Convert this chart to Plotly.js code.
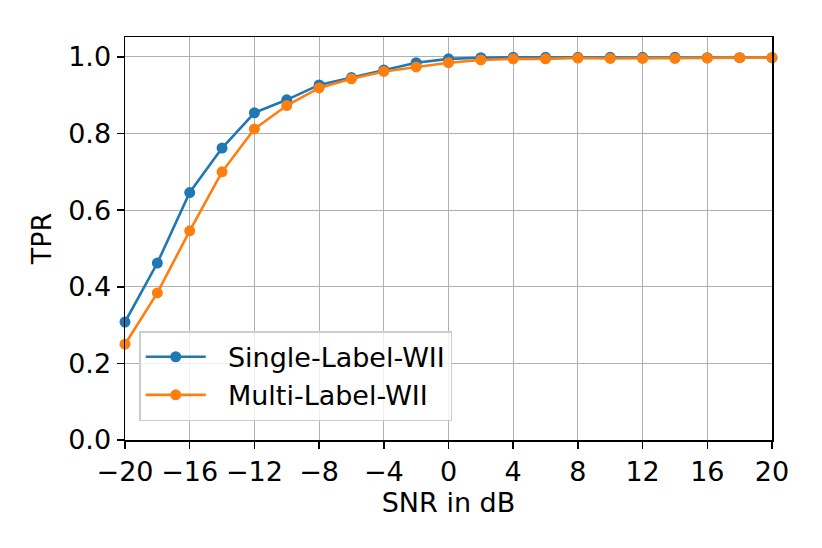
<!DOCTYPE html>
<html>
<head>
<meta charset="utf-8">
<script src="https://cdn.plot.ly/plotly-3.0.1.min.js"></script>
<style>html,body{margin:0;padding:0;background:#fff;}#chart{width:822px;height:548px;}</style>
</head>
<body>
<div id="chart"></div>
<script>
const snr = [-20,-18,-16,-14,-12,-10,-8,-6,-4,-2,0,2,4,6,8,10,12,14,16,18,20];
const singleLabel = [0.308,0.462,0.646,0.762,0.854,0.888,0.927,0.946,0.966,0.985,0.995,0.998,0.999,0.999,0.999,0.999,0.999,0.999,0.998,0.998,0.998];
const multiLabel  = [0.250,0.384,0.546,0.700,0.812,0.873,0.919,0.943,0.962,0.974,0.985,0.992,0.995,0.995,0.997,0.996,0.996,0.996,0.997,0.998,0.998];
const seriesNames = ['Single-Label-WII', 'Multi-Label-WII'];
const xTickVals = [-20,-16,-12,-8,-4,0,4,8,12,16,20];
const xTickText = ['\u221220','\u221216','\u221212','\u22128','\u22124','0','4','8','12','16','20'];
const yTickVals = [0,0.2,0.4,0.6,0.8,1.0];
const yTickText = ['0.0','0.2','0.4','0.6','0.8','1.0'];

const font = {family: 'DejaVu Sans, sans-serif', size: 27, color: '#000'};
const pad = '\u00a0\u00a0';
const traces = [
  {x: snr, y: singleLabel, name: pad + seriesNames[0], mode: 'lines+markers', cliponaxis: false,
   line: {color: '#1f77b4', width: 2.6}, marker: {color: '#1f77b4', size: 11}},
  {x: snr, y: multiLabel, name: pad + seriesNames[1], mode: 'lines+markers', cliponaxis: false,
   line: {color: '#ff7f0e', width: 2.6}, marker: {color: '#ff7f0e', size: 11}}
];
const layout = {
  width: 822, height: 548,
  margin: {l: 125, r: 50, t: 37, b: 108},
  paper_bgcolor: '#fff', plot_bgcolor: '#fff',
  font: font,
  showlegend: true,
  legend: {x: 0.022, y: 0.27, xanchor: 'left', yanchor: 'top', bgcolor: 'rgba(255,255,255,0.8)',
           bordercolor: '#cccccc', borderwidth: 1.5, font: {family: 'DejaVu Sans, sans-serif', size: 27, color: '#000'},
           itemwidth: 60, tracegroupgap: 0},
  xaxis: {range: [-20, 20], tickvals: xTickVals, ticktext: xTickText, showgrid: true, gridcolor: '#b0b0b0', gridwidth: 1,
          zeroline: false, showline: true, linecolor: '#000', linewidth: 1.5, mirror: true,
          ticks: 'outside', ticklen: 7, tickwidth: 1.5, tickcolor: '#000',
          title: {text: 'SNR in dB', font: font, standoff: 2}},
  yaxis: {range: [0, 1.052], tickvals: yTickVals, ticktext: yTickText, showgrid: true, gridcolor: '#b0b0b0', gridwidth: 1,
          zeroline: false, showline: true, linecolor: '#000', linewidth: 1.5, mirror: true,
          ticks: 'outside', ticklen: 7, tickwidth: 1.5, tickcolor: '#000',
          title: {text: 'TPR', font: font, standoff: 8}}
};
Plotly.newPlot('chart', traces, layout, {displayModeBar: false, staticPlot: true});
</script>
</body>
</html>
